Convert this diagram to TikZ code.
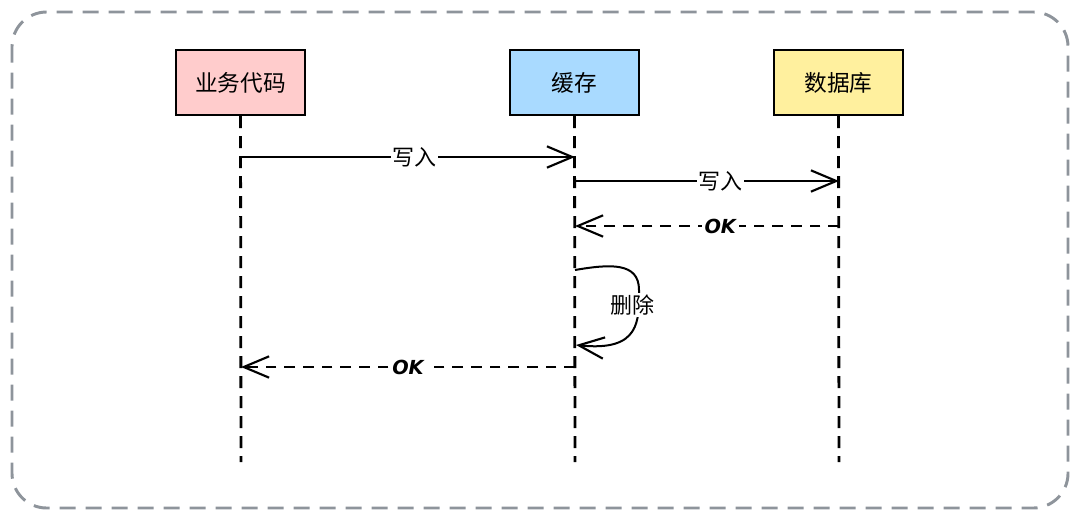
\documentclass[tikz,border=0pt]{standalone}
\usepackage{fontspec}
\newfontfamily\cjk{Noto Sans CJK SC}
\newfontfamily\okfont{DejaVu Sans}
\usetikzlibrary{arrows.meta}
\definecolor{pinkc}{HTML}{FFCCCC}
\definecolor{bluec}{HTML}{A9DAFF}
\definecolor{yellowc}{HTML}{FFF09E}
\definecolor{framec}{HTML}{8E949B}
\begin{document}
\begin{tikzpicture}[x=0.75pt,y=-0.75pt,
  actor/.style={draw=black, line width=1.6pt, minimum width=96.75pt, minimum height=48.75pt, inner sep=0pt, font=\cjk\fontsize{17}{19}\selectfont},
  life/.style={line width=2.1pt, dash pattern=on 9pt off 6pt},
  msg/.style={line width=1.5pt, -{Straight Barb[length=19pt,width=16pt,line width=1.6pt]}},
  reply/.style={msg, line width=1.8pt, dash pattern=on 8pt off 6pt},
  lbl/.style={fill=white, inner sep=1pt, font=\cjk\fontsize{16.5}{18}\selectfont},
  oklbl/.style={fill=white, inner sep=2pt, font=\okfont\bfseries\itshape\fontsize{14.5}{16}\selectfont}
]
\useasboundingbox (0,0) rectangle (1080,521);
\draw[framec, line width=2.2pt, dash pattern=on 12pt off 7.5pt, rounded corners=26pt] (12,12) rectangle (1068,508);

\node[actor, fill=pinkc] (a) at (240.5,82.5) {业务代码};
\node[actor, fill=bluec] (b) at (574.5,82.5) {缓存};
\node[actor, fill=yellowc] (c) at (838.5,82.5) {数据库};

\coordinate (aend) at (241,462);
\coordinate (bend) at (575,462);
\coordinate (cend) at (839,462);
\draw[life] (a.south) -- (aend);
\draw[life] (b.south) -- (bend);
\draw[life] (c.south) -- (cend);

\coordinate (a1) at (241,157);
\coordinate (b1) at (575,157);
\coordinate (b2) at (575,181);
\coordinate (c2) at (839,181);
\coordinate (c3) at (839,226);
\coordinate (b3) at (575,226);
\coordinate (b4) at (575,270);
\coordinate (b5) at (576,345);
\coordinate (b6) at (575,367);
\coordinate (a6) at (241,367);

\draw[msg] (a1) -- node[lbl, pos=0.52] {写入} (b1);
\draw[msg] (b2) -- node[lbl, pos=0.55] {写入} (c2);
\draw[reply] (c3) -- node[oklbl, pos=0.45] {OK} (b3);
\draw[msg] (b4) .. controls (610,264) and (639,262) .. (639,290)
  .. controls (639,320) and (641,352) .. (b5);
\node[lbl] (del) at (632,305) {删除};
\draw[reply] (b6) -- node[oklbl, pos=0.5] {OK} (a6);
\end{tikzpicture}
\end{document}
